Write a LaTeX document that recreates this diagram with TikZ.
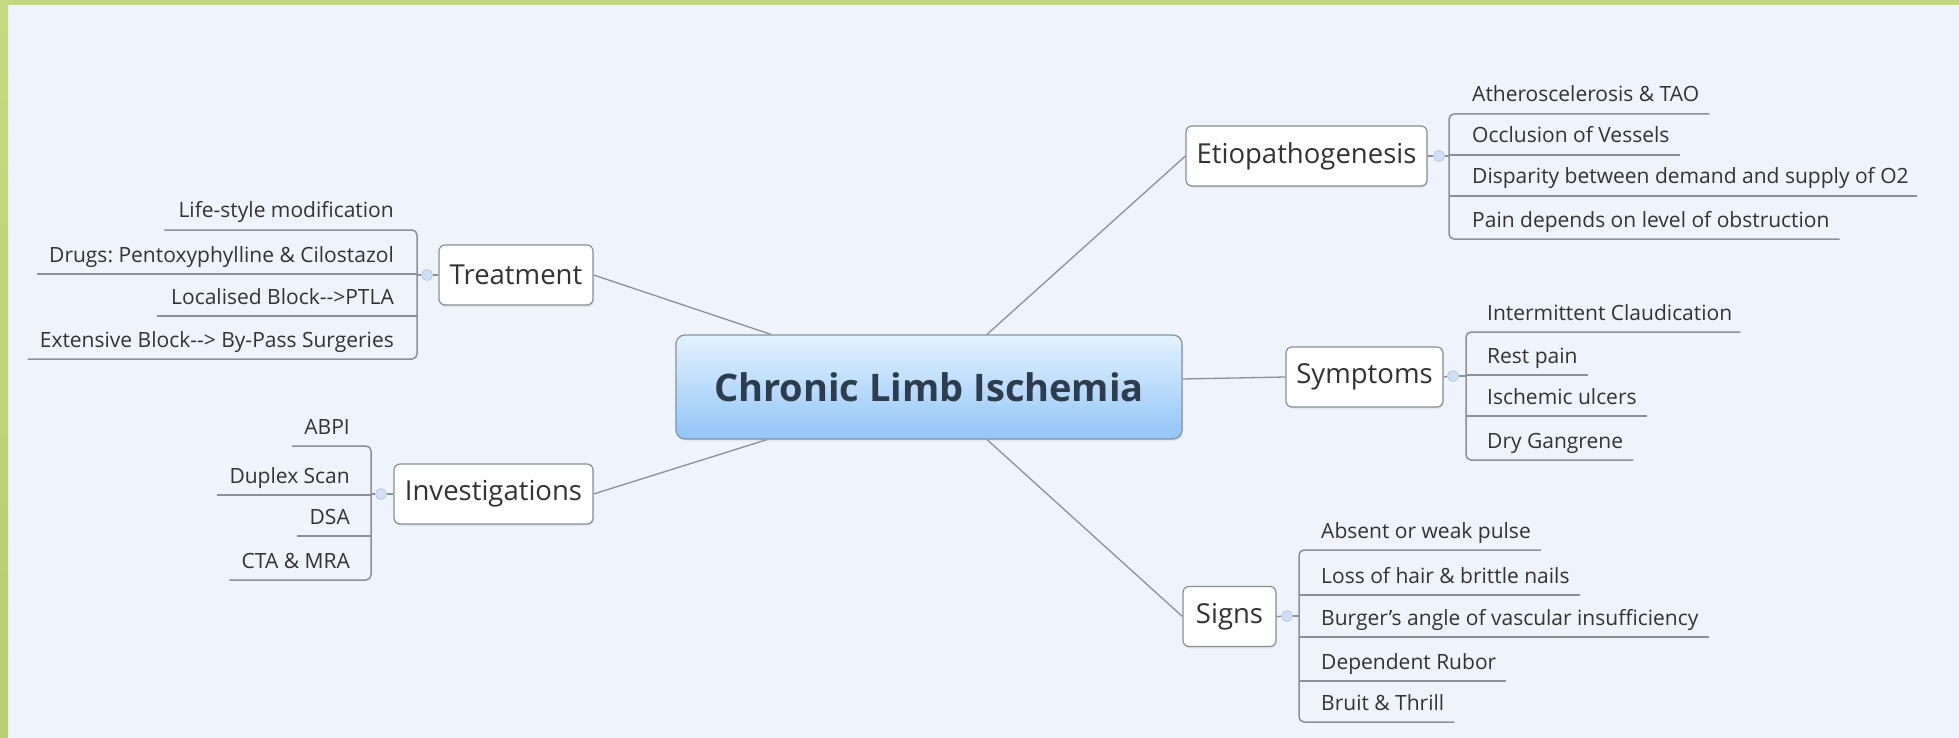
\documentclass[tikz,border=0pt]{standalone}
\usepackage{fontspec}
\setmainfont{Open Sans}
\usetikzlibrary{calc,shadows}
\definecolor{bg}{HTML}{EFF3FB}
\definecolor{frame}{HTML}{C4D983}
\definecolor{framedark}{HTML}{B6CE74}
\definecolor{edge}{HTML}{8C9198}
\definecolor{boxline}{HTML}{8A8E94}
\definecolor{ink}{HTML}{333333}
\definecolor{rootink}{HTML}{2E3D4D}
\definecolor{rootline}{HTML}{7F93A8}
\definecolor{roottop}{HTML}{E4F2FF}
\definecolor{rootbot}{HTML}{92C5F7}
\definecolor{knobfill}{HTML}{CFE0F5}
\definecolor{knobline}{HTML}{A9C3E6}
\frenchspacing
\begin{document}
\begin{tikzpicture}[x=1pt,y=-1pt,
  root/.style={draw=rootline, line width=1.2pt, rounded corners=9pt,
    top color=roottop, bottom color=rootbot,
    minimum width=506pt, minimum height=104pt,
    font=\fontsize{38}{46}\selectfont\bfseries, text=rootink,
    drop shadow={opacity=0.12, shadow xshift=1pt, shadow yshift=-2pt}},
  branch/.style={draw=boxline, line width=1.2pt, fill=white, rounded corners=6pt,
    minimum height=60pt, inner xsep=0pt,
    font=\fontsize{27.5}{33}\selectfont, text=ink,
    drop shadow={opacity=0.12, shadow xshift=1pt, shadow yshift=-2pt}},
  leaf/.style={inner sep=0pt, font=\fontsize{21}{26}\selectfont, text=ink},
  knob/.style={circle, minimum size=11pt, inner sep=0pt, fill=knobfill,
    draw=knobline, line width=0.6pt},
  link/.style={draw=edge, line width=1.3pt},
  uline/.style={draw=edge, line width=1.5pt},
  bracket/.style={uline, rounded corners=5pt}]

% canvas and frame
\useasboundingbox (0,0) rectangle (1959,738);
\fill[bg] (0,0) rectangle (1959,738);
\fill[frame] (0,0) rectangle (1959,5);
\shade[top color=frame, bottom color=framedark] (0,0) rectangle (8,738);

% central topic
\node[root] (root) at (929,387) {Chronic Limb Ischemia};

% main branches
\node[branch, minimum width=154pt] (treat) at (516,275) {Treatment};
\node[branch, minimum width=199pt] (inv)   at (493.5,494) {Investigations};
\node[branch, minimum width=241pt] (etio)  at (1306.5,156) {Etiopathogenesis};
\node[branch, minimum width=157pt] (sym)   at (1364.5,377) {Symptoms};
\node[branch, minimum width=93pt]  (signs) at (1229.5,616.5) {Signs};

\draw[link] ([xshift=-158pt]root.north) -- (treat.east);
\draw[link] ([xshift=-162pt]root.south) -- (inv.east);
\draw[link] ([xshift=58pt]root.north) -- (etio.west);
\draw[link] ([yshift=8pt]root.east) -- (sym.west);
\draw[link] ([xshift=58pt]root.south) -- (signs.west);

% ---- Treatment (left) ----
\coordinate (t1l) at (417,230);
\coordinate (t2l) at (417,274);
\coordinate (t3l) at (417,316);
\coordinate (t4l) at (417,359);
\node[leaf, anchor=base east] (t1) at ($(t1l)+(-23,-12)$) {Life-style modification};
\node[leaf, anchor=base east] (t2) at ($(t2l)+(-23,-12)$) {Drugs: Pentoxyphylline \& Cilostazol};
\node[leaf, anchor=base east] (t3) at ($(t3l)+(-23,-12)$) {Localised Block-{}->PTLA};
\node[leaf, anchor=base east] (t4) at ($(t4l)+(-23,-12)$) {Extensive Block-{}-> By-Pass Surgeries};
\draw[bracket] ($(t1l -| t1.west)+(-14,0)$) -- (t1l) -- (t4l) -- ($(t4l -| t4.west)+(-12,0)$);
\draw[uline] (t2l) -- ($(t2l -| t2.west)+(-12,0)$);
\draw[uline] (t3l) -- ($(t3l -| t3.west)+(-14,0)$);
\node[knob] (tk) at (427,275) {};
\draw[link] (treat.west) -- (tk);
\draw[uline] (tk) -- (tk -| t1l);

% ---- Investigations (left) ----
\coordinate (i1l) at (371,446);
\coordinate (i2l) at (371,495);
\coordinate (i3l) at (371,536);
\coordinate (i4l) at (371,580);
\node[leaf, anchor=base east] (i1) at ($(i1l)+(-21,-12)$) {ABPI};
\node[leaf, anchor=base east] (i2) at ($(i2l)+(-21,-12)$) {Duplex Scan};
\node[leaf, anchor=base east] (i3) at ($(i3l)+(-21,-12)$) {DSA};
\node[leaf, anchor=base east] (i4) at ($(i4l)+(-21,-12)$) {CTA \& MRA};
\draw[bracket] ($(i1l -| i1.west)+(-12,0)$) -- (i1l) -- (i4l) -- ($(i4l -| i4.west)+(-12,0)$);
\draw[uline] (i2l) -- ($(i2l -| i2.west)+(-12,0)$);
\draw[uline] (i3l) -- ($(i3l -| i3.west)+(-12,0)$);
\node[knob] (ik) at (381,494) {};
\draw[link] (inv.west) -- (ik);
\draw[uline] (ik) -- (ik -| i1l);

% ---- Etiopathogenesis (right) ----
\coordinate (e1l) at (1449,114);
\coordinate (e2l) at (1449,155);
\coordinate (e3l) at (1449,196);
\coordinate (e4l) at (1449,239);
\node[leaf, anchor=base west] (e1) at ($(e1l)+(23,-12)$) {Atheroscelerosis \& TAO};
\node[leaf, anchor=base west] (e2) at ($(e2l)+(23,-12)$) {Occlusion of Vessels};
\node[leaf, anchor=base west] (e3) at ($(e3l)+(23,-12)$) {Disparity between demand and supply of O2};
\node[leaf, anchor=base west] (e4) at ($(e4l)+(23,-12)$) {Pain depends on level of obstruction};
\draw[bracket] ($(e1l -| e1.east)+(10,0)$) -- (e1l) -- (e4l) -- ($(e4l -| e4.east)+(10,0)$);
\draw[uline] (e2l) -- ($(e2l -| e2.east)+(10,0)$);
\draw[uline] (e3l) -- ($(e3l -| e3.east)+(8,0)$);
\node[knob] (ek) at (1439,156) {};
\draw[link] (etio.east) -- (ek);
\draw[uline] (ek) -- (ek -| e1l);

% ---- Symptoms (right) ----
\coordinate (s1l) at (1466,332);
\coordinate (s2l) at (1466,375);
\coordinate (s3l) at (1466,416);
\coordinate (s4l) at (1466,460);
\node[leaf, anchor=base west] (s1) at ($(s1l)+(21,-12)$) {Intermittent Claudication};
\node[leaf, anchor=base west] (s2) at ($(s2l)+(21,-12)$) {Rest pain};
\node[leaf, anchor=base west] (s3) at ($(s3l)+(21,-12)$) {Ischemic ulcers};
\node[leaf, anchor=base west] (s4) at ($(s4l)+(21,-12)$) {Dry Gangrene};
\draw[bracket] ($(s1l -| s1.east)+(8,0)$) -- (s1l) -- (s4l) -- ($(s4l -| s4.east)+(10,0)$);
\draw[uline] (s2l) -- ($(s2l -| s2.east)+(10,0)$);
\draw[uline] (s3l) -- ($(s3l -| s3.east)+(10,0)$);
\node[knob] (sk) at (1453,376) {};
\draw[link] (sym.east) -- (sk);
\draw[uline] (sk) -- (sk -| s1l);

% ---- Signs (right) ----
\coordinate (g1l) at (1299,550);
\coordinate (g2l) at (1299,595);
\coordinate (g3l) at (1299,637);
\coordinate (g4l) at (1299,681);
\coordinate (g5l) at (1299,722);
\node[leaf, anchor=base west] (g1) at ($(g1l)+(22,-12)$) {Absent or weak pulse};
\node[leaf, anchor=base west] (g2) at ($(g2l)+(22,-12)$) {Loss of hair \& brittle nails};
\node[leaf, anchor=base west] (g3) at ($(g3l)+(22,-12)$) {Burger’s angle of vascular insufficiency};
\node[leaf, anchor=base west] (g4) at ($(g4l)+(22,-12)$) {Dependent Rubor};
\node[leaf, anchor=base west] (g5) at ($(g5l)+(22,-12)$) {Bruit \& Thrill};
\draw[bracket] ($(g1l -| g1.east)+(10,0)$) -- (g1l) -- (g5l) -- ($(g5l -| g5.east)+(10,0)$);
\draw[uline] (g2l) -- ($(g2l -| g2.east)+(10,0)$);
\draw[uline] (g3l) -- ($(g3l -| g3.east)+(10,0)$);
\draw[uline] (g4l) -- ($(g4l -| g4.east)+(10,0)$);
\node[knob] (gk) at (1287,616) {};
\draw[link] (signs.east) -- (gk);
\draw[uline] (gk) -- (gk -| g1l);
\end{tikzpicture}
\end{document}
